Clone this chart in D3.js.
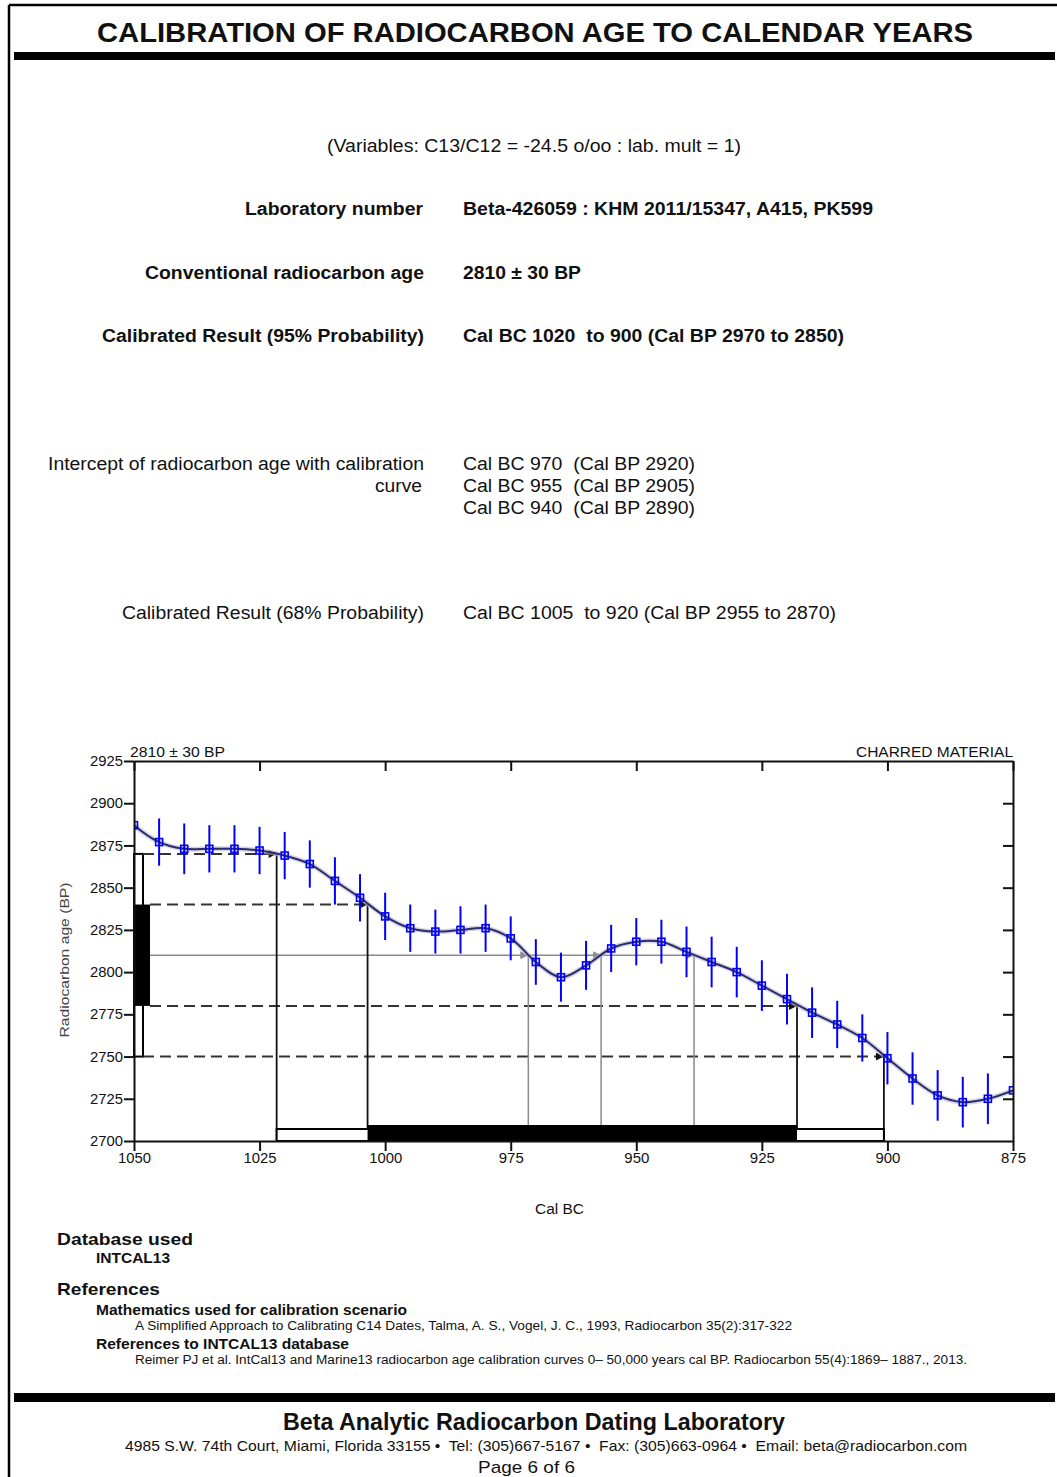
<!DOCTYPE html>
<html>
<head>
<meta charset="utf-8">
<script src="https://cdn.jsdelivr.net/npm/d3@7"></script>
<style>
  body { margin: 0; background: #fff; }
  svg { display: block; }
  text { font-family: "Liberation Sans", Arial, sans-serif; fill: #111; white-space: pre; }
</style>
</head>
<body>
<script>
// ---------- DATA ----------
const calYears = [1055, 1050, 1045, 1040, 1035, 1030, 1025, 1020, 1015, 1010, 1005, 1000, 995, 990, 985, 980, 975, 970, 965, 960, 955, 950, 945, 940, 935, 930, 925, 920, 915, 910, 905, 900, 895, 890, 885, 880, 875];
const c14Age   = [2902, 2887, 2877, 2873, 2873, 2873, 2872, 2869, 2864, 2854, 2844, 2833, 2826, 2824, 2825, 2826, 2820, 2806, 2797, 2804, 2814, 2818, 2818, 2812, 2806, 2800, 2792, 2784, 2776, 2769, 2761, 2749, 2737, 2727, 2723, 2725, 2730];
const c14Err   = [0, 0, 14, 15, 14, 14, 14, 14, 14, 14, 14, 14, 14, 13, 14, 14, 13, 13.5, 14.5, 14.5, 14, 14, 13, 15, 15, 15, 15, 15, 15, 14, 14, 15.5, 15.5, 15, 15, 15, 0];
const sampleAge = 2810;
const sampleSigma = 30;
const interceptYears = [971.5, 957, 938.5];
const range68 = [1003.5, 918];
const range95 = [1021.6, 900.7];
const xTicks = [1050, 1025, 1000, 975, 950, 925, 900, 875];
const yTicks = [2700, 2725, 2750, 2775, 2800, 2825, 2850, 2875, 2900, 2925];
const yInnerTicks = [2725, 2750, 2775, 2800, 2825, 2850, 2875, 2900];

// ---------- PAGE ----------
const W = 1057, H = 1477;
const svg = d3.select("body").append("svg").attr("width", W).attr("height", H);

function txt(x, y, s, o = {}) {
  const t = svg.append("text").attr("x", x).attr("y", y).text(s)
    .attr("font-size", o.size || 18)
    .attr("font-weight", o.weight || "normal")
    .attr("text-anchor", o.anchor || "start");
  if (o.len) t.attr("textLength", o.len).attr("lengthAdjust", "spacingAndGlyphs");
  if (o.fill) t.style("fill", o.fill);
  return t;
}

// border + bars
svg.append("line").attr("x1", 9).attr("y1", 5).attr("x2", W).attr("y2", 5).attr("stroke", "#000").attr("stroke-width", 2.5);
svg.append("line").attr("x1", 9).attr("y1", 5).attr("x2", 9).attr("y2", H).attr("stroke", "#000").attr("stroke-width", 2.5);
svg.append("rect").attr("x", 14).attr("y", 52).attr("width", 1041).attr("height", 8).attr("fill", "#000");
svg.append("rect").attr("x", 14).attr("y", 1393).attr("width", 1041).attr("height", 9).attr("fill", "#000");

// header texts
txt(97, 42, "CALIBRATION OF RADIOCARBON AGE TO CALENDAR YEARS", {size: 27, weight: "bold", len: 876});
txt(327, 152, "(Variables: C13/C12 = -24.5 o/oo : lab. mult = 1)", {size: 17.5, len: 414});

txt(423, 215, "Laboratory number", {weight: "bold", anchor: "end", len: 178});
txt(463, 215, "Beta-426059 : KHM 2011/15347, A415, PK599", {weight: "bold", len: 410});
txt(424, 279, "Conventional radiocarbon age", {weight: "bold", anchor: "end", len: 279});
txt(463, 279, "2810 \u00B1 30 BP", {weight: "bold", len: 118});
txt(424, 342, "Calibrated Result (95% Probability)", {weight: "bold", anchor: "end", len: 322});
txt(463, 342, "Cal BC 1020  to 900 (Cal BP 2970 to 2850)", {weight: "bold", len: 381});

txt(424, 470, "Intercept of radiocarbon age with calibration", {anchor: "end", len: 376});
txt(422, 492, "curve", {anchor: "end", len: 47});
txt(463, 470, "Cal BC 970  (Cal BP 2920)", {len: 232});
txt(463, 492, "Cal BC 955  (Cal BP 2905)", {len: 232});
txt(463, 514, "Cal BC 940  (Cal BP 2890)", {len: 232});
txt(424, 619, "Calibrated Result (68% Probability)", {anchor: "end", len: 302});
txt(463, 619, "Cal BC 1005  to 920 (Cal BP 2955 to 2870)", {len: 373});

// ---------- CHART ----------
const x = d3.scaleLinear().domain([1050, 875]).range([134, 1013]);
const y = d3.scaleLinear().domain([2700, 2925]).range([1141, 761]);
const g = svg.append("g");

const defs = svg.append("defs");
function marker(id, color) {
  defs.append("marker").attr("id", id).attr("viewBox", "0 0 10 10")
    .attr("refX", 10).attr("refY", 5).attr("markerUnits", "userSpaceOnUse")
    .attr("markerWidth", 11).attr("markerHeight", 8).attr("orient", "auto")
    .append("path").attr("d", "M0,0 L10,5 L0,10 Z").attr("fill", color);
}
marker("arrB", "#111");
marker("arrG", "#8a8a8a");
defs.append("clipPath").attr("id", "plotClip").append("rect")
  .attr("x", x(1050)).attr("y", y(2925)).attr("width", x(875) - x(1050)).attr("height", y(2700) - y(2925));

// sample distribution boxes on the y-axis
const boxX = x(1050);
g.append("rect").attr("x", boxX).attr("y", y(sampleAge + 2 * sampleSigma))
  .attr("width", 9).attr("height", y(sampleAge - 2 * sampleSigma) - y(sampleAge + 2 * sampleSigma))
  .attr("fill", "#fff").attr("stroke", "#000").attr("stroke-width", 2);
g.append("rect").attr("x", boxX).attr("y", y(sampleAge + sampleSigma))
  .attr("width", 16).attr("height", y(sampleAge - sampleSigma) - y(sampleAge + sampleSigma))
  .attr("fill", "#000");

// dashed level lines to curve
const dash = g.append("g").attr("stroke", "#333").attr("stroke-width", 2).attr("stroke-dasharray", "11,6").attr("fill", "none");
[[sampleAge + 2 * sampleSigma, range95[0], 9], [sampleAge + sampleSigma, range68[0], 16],
 [sampleAge - sampleSigma, range68[1], 16], [sampleAge - 2 * sampleSigma, range95[1], 9]].forEach(([a, yr, off]) => {
  dash.append("line").attr("x1", boxX + off).attr("x2", x(yr)).attr("y1", y(a)).attr("y2", y(a))
    .attr("marker-end", "url(#arrB)");
});

// central age gray line with arrows at intercepts
let prev = boxX + 16;
interceptYears.forEach(yr => {
  g.append("line").attr("x1", prev).attr("x2", x(yr)).attr("y1", y(sampleAge)).attr("y2", y(sampleAge))
    .attr("stroke", "#8a8a8a").attr("stroke-width", 1.5).attr("marker-end", "url(#arrG)");
  prev = x(yr);
});
// intercept verticals
interceptYears.forEach(yr => {
  g.append("line").attr("x1", x(yr)).attr("x2", x(yr)).attr("y1", y(sampleAge)).attr("y2", y(2700))
    .attr("stroke", "#8a8a8a").attr("stroke-width", 1.5);
});
// range verticals
[[range95[0], sampleAge + 2 * sampleSigma], [range68[0], sampleAge + sampleSigma],
 [range68[1], sampleAge - sampleSigma], [range95[1], sampleAge - 2 * sampleSigma]].forEach(([yr, a]) => {
  g.append("line").attr("x1", x(yr)).attr("x2", x(yr)).attr("y1", y(a)).attr("y2", y(2700))
    .attr("stroke", "#111").attr("stroke-width", 1.8);
});

// calibrated ranges along x axis
g.append("rect").attr("x", x(range95[0])).attr("y", y(2700) - 12).attr("width", x(range95[1]) - x(range95[0])).attr("height", 12)
  .attr("fill", "#fff").attr("stroke", "#000").attr("stroke-width", 2);
g.append("rect").attr("x", x(range68[0])).attr("y", y(2700) - 16).attr("width", x(range68[1]) - x(range68[0])).attr("height", 16)
  .attr("fill", "#000");

// calibration curve
const pts = calYears.map((yr, i) => ({yr, a: c14Age[i], e: c14Err[i]}));
const curve = g.append("g").attr("clip-path", "url(#plotClip)");
const lineGen = d3.line().x(d => x(d.yr)).y(d => y(d.a)).curve(d3.curveCatmullRom.alpha(0.5));
curve.append("path").datum(pts).attr("d", lineGen).attr("fill", "none").attr("stroke", "#b8b8cc").attr("stroke-width", 5).attr("opacity", 0.6);
curve.append("path").datum(pts).attr("d", lineGen).attr("fill", "none").attr("stroke", "#2b2b6e").attr("stroke-width", 2);
curve.selectAll("line.err").data(pts.filter(d => d.e > 0)).join("line").attr("class", "err")
  .attr("x1", d => x(d.yr)).attr("x2", d => x(d.yr)).attr("y1", d => y(d.a + d.e)).attr("y2", d => y(d.a - d.e))
  .attr("stroke", "#0000ff").attr("stroke-width", 2);
curve.selectAll("rect.pt").data(pts).join("rect").attr("class", "pt")
  .attr("x", d => x(d.yr) - 3.5).attr("y", d => y(d.a) - 3.5).attr("width", 7).attr("height", 7)
  .attr("fill", "none").attr("stroke", "#0000ff").attr("stroke-width", 1.6);

// axes
function styleAxis(sel) {
  sel.selectAll("path.domain").attr("stroke", "#111").attr("stroke-width", 2);
  sel.selectAll(".tick line").attr("stroke", "#111").attr("stroke-width", 2);
  sel.selectAll("text").attr("font-size", 14.5).style("font-family", "'Liberation Sans', Arial, sans-serif").attr("fill", "#111")
    .attr("textLength", 33).attr("lengthAdjust", "spacingAndGlyphs");
}
const fmt = d3.format("d");
svg.append("g").attr("transform", `translate(0,${y(2700)})`)
  .call(d3.axisBottom(x).tickValues(xTicks).tickFormat(fmt).tickSize(10).tickSizeOuter(0).tickPadding(2)).call(styleAxis)
  .selectAll(".tick text").filter(d => d < 1000).attr("textLength", 25);
svg.append("g").attr("transform", `translate(${x(1050)},0)`)
  .call(d3.axisLeft(y).tickValues(yTicks).tickFormat(fmt).tickSize(10).tickSizeOuter(0).tickPadding(1)).call(styleAxis);
svg.append("g").attr("transform", `translate(0,${y(2925)})`)
  .call(d3.axisTop(x).tickValues(xTicks).tickSize(-10).tickSizeOuter(0).tickFormat("")).call(styleAxis);
svg.append("g").attr("transform", `translate(${x(875)},0)`)
  .call(d3.axisRight(y).tickValues(yInnerTicks).tickSize(-10).tickSizeOuter(0).tickFormat("")).call(styleAxis);

// chart labels
txt(130, 757, "2810 \u00B1 30 BP", {size: 14, len: 95});
txt(1013, 757, "CHARRED MATERIAL", {size: 14, anchor: "end", len: 157});
txt(535, 1214, "Cal BC", {size: 14, len: 49});
svg.append("text").attr("transform", "translate(69,960) rotate(-90)").attr("text-anchor", "middle")
  .attr("font-size", 13.5).style("fill", "#444").text("Radiocarbon age (BP)")
  .attr("textLength", 155).attr("lengthAdjust", "spacingAndGlyphs");

// ---------- FOOTER TEXTS ----------
txt(57, 1245, "Database used", {size: 17, weight: "bold", len: 136});
txt(96, 1263, "INTCAL13", {size: 14, weight: "bold", len: 74});
txt(57, 1295, "References", {size: 17, weight: "bold", len: 103});
txt(96, 1315, "Mathematics used for calibration scenario", {size: 14, weight: "bold", len: 311});
txt(135, 1330, "A Simplified Approach to Calibrating C14 Dates, Talma, A. S., Vogel, J. C., 1993, Radiocarbon 35(2):317-322", {size: 12.5, len: 657});
txt(96, 1349, "References to INTCAL13 database", {size: 14, weight: "bold", len: 253});
txt(135, 1364, "Reimer PJ et al. IntCal13 and Marine13 radiocarbon age calibration curves 0\u2013 50,000 years cal BP. Radiocarbon 55(4):1869\u2013 1887., 2013.", {size: 12.5, len: 832});

txt(283, 1430, "Beta Analytic Radiocarbon Dating Laboratory", {size: 23, weight: "bold", len: 502});
txt(125, 1451, "4985 S.W. 74th Court, Miami, Florida 33155 \u2022  Tel: (305)667-5167 \u2022  Fax: (305)663-0964 \u2022  Email: beta@radiocarbon.com", {size: 14.5, len: 842});
txt(478, 1473, "Page 6 of 6", {size: 17, len: 97});
</script>
</body>
</html>
